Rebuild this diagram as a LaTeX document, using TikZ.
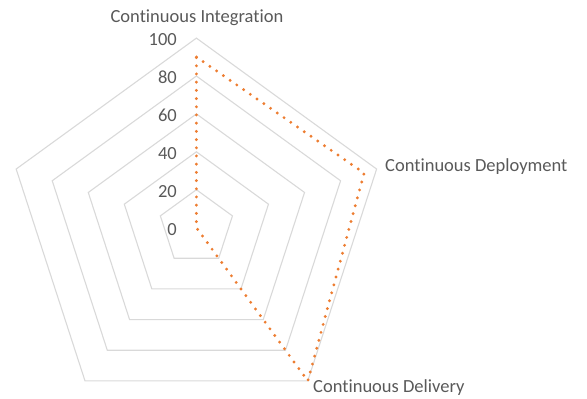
\documentclass[tikz,border=0pt]{standalone}
\usepackage{fontspec}
\setmainfont{Carlito}[Ligatures=CommonOff]
\definecolor{gridgray}{HTML}{D9D9D9}
\definecolor{labelgray}{HTML}{595959}
\definecolor{seriesorange}{HTML}{ED7D31}
\begin{document}
\begin{tikzpicture}[x=1pt,y=-1pt,
  ring/.style={draw=gridgray,line width=1.1pt,line join=miter},
  series/.style={draw=seriesorange,line width=3.2pt,line cap=round,dash pattern=on 0pt off 8.2pt},
  axislabel/.style={text=labelgray,font=\fontsize{18.5}{22}\selectfont,inner sep=0pt},
  ticklabel/.style={text=labelgray,font=\fontsize{18.5}{22}\selectfont,inner sep=0pt,anchor=east}]
\useasboundingbox (0,0) rectangle (587,399);
% chart centre and full radius
\def\cx{196.4}
\def\cy{227.6}
\def\R{189.6}
\coordinate (c) at (\cx,\cy);
% grid rings at 20, 40, 60, 80, 100
\foreach \v in {20,40,60,80,100}{
  \pgfmathsetmacro{\rr}{\R*0.01*\v}
  \draw[ring] ({\cx},{\cy-\rr})
    \foreach \a in {18,-54,-126,162}{ -- ({\cx+\rr*cos(\a)},{\cy-\rr*sin(\a)})} -- cycle;
}
% data points
\coordinate (ci)  at ({\cx},{\cy-\R*0.90});
\coordinate (dep) at ({\cx+\R*0.93*cos(18)},{\cy-\R*0.93*sin(18)});
\coordinate (del) at ({\cx+\R*cos(-54)},{\cy-\R*sin(-54)});
\draw[series] (ci) -- (dep) -- (del) -- (c) -- cycle;
% scale labels
\foreach \v in {0,20,40,60,80,100}{
  \node[ticklabel] (t\v) at (177,{\cy-\R*0.01*\v+1.5}) {\v};
}
% category labels
\node[axislabel] (lci)  at (197,18) {Continuous Integration};
\node[axislabel,anchor=west] (ldep) at (385,167) {Continuous Deployment};
\node[axislabel,anchor=west] (ldel) at (313,388) {Continuous Delivery};
\end{tikzpicture}
\end{document}
